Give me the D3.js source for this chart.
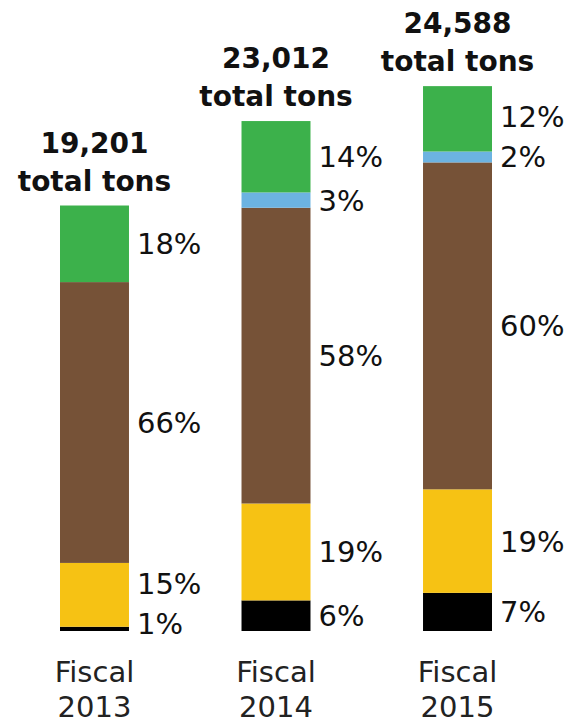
<!DOCTYPE html>
<html>
<head>
<meta charset="utf-8">
<script src="https://cdn.jsdelivr.net/npm/d3@7"></script>
<style>
  html, body { margin: 0; padding: 0; background: #fff; }
  svg { display: block; font-family: "DejaVu Sans", Lato, sans-serif; }
</style>
</head>
<body>
<svg id="chart" width="569" height="726"></svg>
<script>
// Fiscal years and total tonnage per year
const years = ["2013", "2014", "2015"];
const totals = [19201, 23012, 24588];

// Share of each stream per year, bottom to top (percent)
const streams = ["black", "yellow", "brown", "blue", "green"];
const pctBlack  = [1, 6, 7];
const pctYellow = [15, 19, 19];
const pctBrown  = [66, 58, 60];
const pctBlue   = [0, 3, 2];
const pctGreen  = [18, 14, 12];

const colors = {
  black: "#000000",
  yellow: "#f6c214",
  brown: "#765237",
  blue: "#6cb3e1",
  green: "#3cb14b"
};

const pctByStream = {
  black: pctBlack, yellow: pctYellow, brown: pctBrown, blue: pctBlue, green: pctGreen
};

const svg = d3.select("#chart");

const x = d3.scaleBand().domain(years).range([60, 492]).paddingInner(0.62).paddingOuter(0);
const y = d3.scaleLinear().domain([0, 25000]).range([631, 77]);

years.forEach((yr, i) => {
  const total = totals[i];
  let cum = 0;
  const segs = [];
  streams.forEach(s => {
    const p = pctByStream[s][i];
    if (p <= 0) return;
    const v0 = total * cum / 100;
    cum += p;
    const v1 = total * cum / 100;
    segs.push({ stream: s, pct: p, v0, v1 });
  });

  const g = svg.append("g");
  const x0 = x(yr), bw = x.bandwidth();

  g.selectAll("rect").data(segs).join("rect")
    .attr("x", x0)
    .attr("width", bw)
    .attr("y", d => y(d.v1))
    .attr("height", d => y(d.v0) - y(d.v1))
    .attr("fill", d => colors[d.stream]);

  // Percentage labels: centered on each segment, pushed up to avoid overlap
  const bottomLimit = y(0) - 7;
  const gap = 40;
  let prev = Infinity;
  segs.forEach(d => {
    const c = (y(d.v0) + y(d.v1)) / 2;
    const ly = Math.min(c, bottomLimit, prev - gap);
    d.ly = ly;
    prev = ly;
  });

  g.selectAll("text.pct").data(segs).join("text")
    .attr("class", "pct")
    .attr("x", x0 + bw + 8)
    .attr("y", d => d.ly)
    .attr("dy", "0.36em")
    .attr("font-size", 29)
    .attr("fill", "#111")
    .text(d => d.pct + "%");

  // Total tonnage heading above each bar
  const topY = y(total);
  const cx = x0 + bw / 2;
  g.append("text")
    .attr("x", cx).attr("y", topY - 15)
    .attr("text-anchor", "middle")
    .attr("font-size", 28).attr("font-weight", 700).attr("fill", "#111")
    .text("total tons");
  g.append("text")
    .attr("x", cx).attr("y", topY - 53)
    .attr("text-anchor", "middle")
    .attr("font-size", 28).attr("font-weight", 700).attr("fill", "#111")
    .text(d3.format(",")(total));

  // Category label
  g.append("text")
    .attr("x", cx).attr("y", 682)
    .attr("text-anchor", "middle")
    .attr("font-size", 29).attr("fill", "#222")
    .text("Fiscal");
  g.append("text")
    .attr("x", cx).attr("y", 717)
    .attr("text-anchor", "middle")
    .attr("font-size", 29).attr("fill", "#222")
    .text(yr);
});
</script>
</body>
</html>
